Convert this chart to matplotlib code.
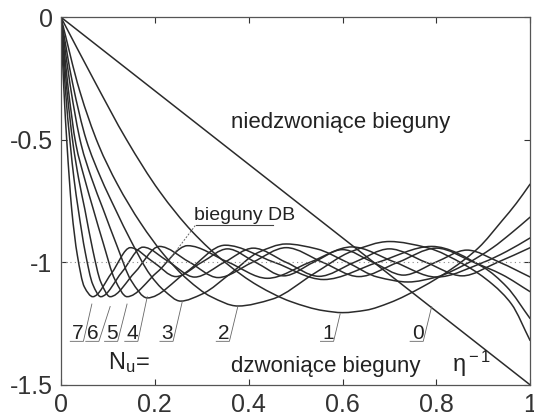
import numpy as np
import matplotlib.pyplot as plt
from matplotlib.path import Path
from matplotlib.patches import PathPatch

plt.rcParams['font.family'] = ['Liberation Sans', 'DejaVu Sans']
plt.rcParams['mathtext.fontset'] = 'custom'
plt.rcParams['mathtext.rm'] = 'Liberation Sans'
plt.rcParams['mathtext.it'] = 'Liberation Sans:italic'
plt.rcParams['axes.unicode_minus'] = False

# pole curves, one per N_u (0 = straight line)
x0 = [0.0, 1.0]
y0 = [0.0, -1.5]

x1 = [0, 0.07, 0.14, 0.21, 0.28, 0.35, 0.42, 0.49, 0.56, 0.60, 0.65, 0.70, 0.77, 0.83, 0.89, 0.94, 0.97, 1.0]
y1 = [0, -0.255, -0.50, -0.71, -0.875, -1.0, -1.095, -1.16, -1.197, -1.205, -1.195, -1.165, -1.10, -1.03, -0.94, -0.83, -0.76, -0.68]

x2 = [0, 0.04, 0.08, 0.12, 0.17, 0.22, 0.27, 0.32, 0.377, 0.45, 0.54, 0.62, 0.70, 0.78, 0.86, 0.92, 0.96, 1.0]
y2 = [0, -0.30, -0.52, -0.68, -0.84, -0.97, -1.07, -1.14, -1.178, -1.15, -1.045, -0.955, -0.915, -0.94, -1.01, -1.09, -1.17, -1.32]

x3 = [0, 0.025, 0.054, 0.085, 0.116, 0.15, 0.19, 0.22, 0.255, 0.30, 0.365, 0.42, 0.48, 0.545, 0.61, 0.675, 0.74, 0.80, 0.86, 0.92, 0.96, 1.0]
y3 = [0, -0.27, -0.50, -0.655, -0.783, -0.915, -1.05, -1.115, -1.158, -1.13, -1.04, -0.96, -0.925, -0.945, -1.0, -1.06, -1.08, -1.06, -1.01, -0.94, -0.88, -0.815]

x4 = [0, 0.02, 0.043, 0.065, 0.09, 0.12, 0.15, 0.184, 0.267, 0.35, 0.455, 0.56, 0.675, 0.79, 0.90, 0.95, 1.0]
y4 = [0, -0.28, -0.518, -0.655, -0.783, -0.935, -1.075, -1.145, -1.04, -0.93, -1.0, -1.07, -1.0, -0.935, -1.02, -1.10, -1.23]

x5 = [0, 0.015, 0.032, 0.05, 0.069, 0.09, 0.115, 0.141, 0.205, 0.27, 0.355, 0.44, 0.53, 0.62, 0.71, 0.80, 0.90, 0.95, 1.0]
y5 = [0, -0.28, -0.518, -0.655, -0.783, -0.92, -1.07, -1.14, -1.04, -0.932, -0.998, -1.065, -1.0, -0.937, -0.998, -1.06, -1.0, -0.955, -0.90]

x6 = [0, 0.012, 0.026, 0.038, 0.051, 0.068, 0.085, 0.105, 0.158, 0.21, 0.273, 0.335, 0.408, 0.48, 0.558, 0.635, 0.718, 0.80, 0.88, 0.94, 1.0]
y6 = [0, -0.28, -0.518, -0.66, -0.783, -0.95, -1.08, -1.14, -1.04, -0.935, -0.998, -1.062, -1.0, -0.94, -1.0, -1.058, -1.0, -0.942, -1.0, -1.05, -1.12]

x7 = [0, 0.009, 0.02, 0.028, 0.037, 0.052, 0.068, 0.085, 0.13, 0.175, 0.23, 0.285, 0.348, 0.41, 0.48, 0.55, 0.625, 0.70, 0.778, 0.855, 0.93, 1.0]
y7 = [0, -0.28, -0.518, -0.66, -0.783, -0.96, -1.09, -1.14, -1.04, -0.938, -0.998, -1.06, -1.0, -0.942, -1.0, -1.057, -1.0, -0.945, -1.0, -1.055, -1.0, -0.94]

x8 = [0, 0.006, 0.013, 0.018, 0.023, 0.035, 0.05, 0.068, 0.108, 0.148, 0.197, 0.245, 0.30, 0.355, 0.415, 0.475, 0.538, 0.60, 0.665, 0.73, 0.798, 0.865, 0.935, 1.0]
y8 = [0, -0.28, -0.518, -0.66, -0.783, -0.97, -1.10, -1.14, -1.044, -0.94, -0.999, -1.058, -1.0, -0.945, -1.0, -1.055, -1.0, -0.948, -1.0, -1.052, -1.0, -0.95, -1.0, -1.06]

curves = [(x1, y1), (x2, y2), (x3, y3), (x4, y4), (x5, y5), (x6, y6), (x7, y7), (x8, y8)]

# N_u labels and where their leaders touch the curves
nu_labels = ['7', '6', '5', '4', '3', '2', '1', '0']
nu_text_x = [0.036, 0.069, 0.109, 0.152, 0.227, 0.347, 0.569, 0.76]
nu_tip = [(0.066, -1.17), (0.105, -1.18), (0.141, -1.17), (0.184, -1.14),
          (0.259, -1.157), (0.377, -1.18), (0.595, -1.21), (0.79, -1.18)]

xticks = [0, 0.2, 0.4, 0.6, 0.8, 1]
xticklabels = ['0', '0.2', '0.4', '0.6', '0.8', '1']
yticks = [0, -0.5, -1, -1.5]
yticklabels = ['0', '-0.5', '-1', '-1.5']


def smooth_path(x, y):
    # monotone cubic (pchip-like) drawn as bezier segments
    x = np.asarray(x, float)
    y = np.asarray(y, float)
    h = np.diff(x)
    d = np.diff(y) / h
    m = np.zeros_like(x)
    for i in range(1, len(x) - 1):
        if d[i - 1] * d[i] > 0:
            w1 = 2 * h[i] + h[i - 1]
            w2 = h[i] + 2 * h[i - 1]
            m[i] = (w1 + w2) / (w1 / d[i - 1] + w2 / d[i])
    m[0] = d[0]
    m[-1] = d[-1]
    verts = [(x[0], y[0])]
    codes = [Path.MOVETO]
    for i in range(len(h)):
        verts += [(x[i] + h[i] / 3, y[i] + m[i] * h[i] / 3),
                  (x[i + 1] - h[i] / 3, y[i + 1] - m[i + 1] * h[i] / 3),
                  (x[i + 1], y[i + 1])]
        codes += [Path.CURVE4] * 3
    return Path(verts, codes)


lc = '#2b2b2b'
fig = plt.figure(figsize=(5.34, 4.18), dpi=100)
ax = fig.add_axes([0.114, 0.079, 0.879, 0.880])

ax.axhline(-1, color='#888888', lw=0.8, ls=(0, (1, 3)))
ax.plot(x0, y0, color=lc, lw=1.1)
for cx, cy in curves:
    ax.add_patch(PathPatch(smooth_path(cx, cy), fill=False, ec=lc, lw=1.1))

# N_u labels with small underline + leader
for lab, tx, tip in zip(nu_labels, nu_text_x, nu_tip):
    ax.text(tx, -1.312, lab, fontsize=15, ha='center', va='baseline', color='#222222')
    ax.plot([tx - 0.016, tx + 0.012, tip[0]], [-1.322, -1.322, tip[1]],
            color='#666666', lw=0.6)

ax.text(0.362, -0.452, 'niedzwoniące bieguny', fontsize=16, color='#222222')
ax.text(0.283, -0.828, 'bieguny DB', fontsize=14, color='#222222')
ax.plot([0.287, 0.452], [-0.848, -0.848], color='#444444', lw=0.8)
ax.plot([0.227, 0.287], [-1.0, -0.848], color='#666666', lw=0.7, ls=(0, (2, 1.5)))
ax.text(0.10, -1.435, r'N$_{\rm u}$=', fontsize=17, color='#222222')
ax.text(0.362, -1.447, 'dzwoniące bieguny', fontsize=16, color='#222222')
ax.text(0.833, -1.445, r'η$^{\rm -1}$', fontsize=17, color='#222222')

ax.set_xlim(0, 1)
ax.set_ylim(-1.5, 0)
ax.set_xticks(xticks)
ax.set_xticklabels(xticklabels)
ax.set_yticks(yticks)
ax.set_yticklabels(yticklabels)
ax.tick_params(direction='in', length=4, width=0.8, top=True, right=True,
               labelsize=18, pad=6, colors='#333333')
for s in ax.spines.values():
    s.set_color('#555555')
    s.set_linewidth(0.9)

fig.savefig('out.png', dpi=100)
